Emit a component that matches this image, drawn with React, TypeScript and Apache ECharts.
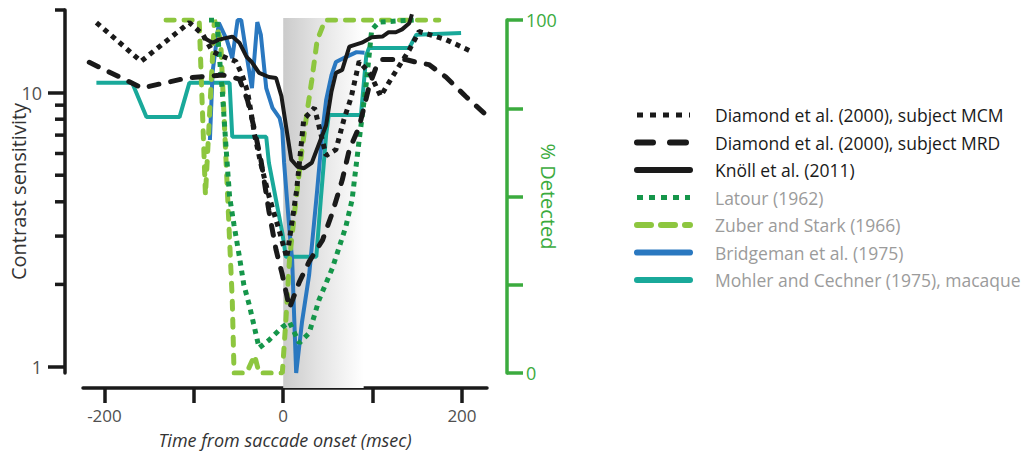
import React, { useEffect, useRef } from "react";
import * as echarts from "echarts";

// ---- Data (contrast sensitivity, left log axis) ----
const mcmTime = [-209, -159, -105, -90, -79, -64, -53, -46, -40, -36, -32, -25, -16, -4, 4, 15, 23, 35, 48, 59, 68, 76, 85, 98, 109, 122, 141, 152, 182, 211];
const mcmSens = [18.0, 13.0, 18.0, 16.3, 14.1, 13.4, 13.0, 11.6, 10.1, 8.5, 7.0, 5.5, 4.2, 3.1, 2.5, 4.4, 8.0, 8.8, 5.9, 6.2, 8.0, 9.6, 13.0, 11.6, 9.7, 11.4, 14.3, 16.7, 15.6, 14.1];

const mrdTime = [-217, -158, -108, -68, -49, -40, -32, -25, -16, -8, -1, 7, 18, 29, 44, 55, 66, 74, 85, 96, 104, 111, 137, 149, 163, 182, 204, 227];
const mrdSens = [12.9, 10.4, 11.3, 11.6, 11.2, 9.4, 7.3, 5.7, 3.7, 2.67, 2.17, 1.64, 2.04, 2.42, 2.9, 3.65, 4.8, 6.2, 7.5, 10.5, 12.4, 13.2, 13.2, 12.9, 12.65, 11.4, 9.7, 8.3];

const knollTime = [-90, -79, -72, -57, -49, -41, -35, -27, -16, -8, -2, 3, 9, 16, 23, 32, 40, 48, 54, 59, 66, 74, 88, 99, 111, 118, 126, 133, 141, 144];
const knollSens = [15.9, 15.2, 15.6, 16.0, 15.2, 13.5, 12.9, 11.8, 11.4, 11.3, 9.7, 7.6, 5.7, 5.37, 5.3, 5.55, 6.5, 7.6, 10.1, 11.8, 12.1, 14.7, 15.2, 15.9, 16.0, 16.6, 16.6, 17.0, 17.9, 19.3];

// ---- Data (% detected, right axis) ----
const latourTime = [-83, -74, -72, -68, -64, -60, -55, -49, -44, -38, -32, -27, -16, -1, 7, 18, 29, 40, 55, 70, 77, 85, 93, 99, 107, 146];
const latourPct = [100, 100, 91.5, 79.3, 64, 49.9, 41.9, 32.9, 24.9, 19.3, 12.7, 7.1, 9.3, 13.0, 14.4, 8.5, 11.3, 20.7, 29.7, 41.4, 49, 66, 82.2, 97.2, 99.4, 100];

const zuberTime = [-131, -94, -87, -77, -70, -63, -57, -55, -41, -32, -27, -1, 3, 7, 13, 21, 27, 32, 38, 47, 174];
const zuberPct = [100, 100, 50.4, 100, 94.3, 54.7, 20.7, 0, 0, 5, 0, 0, 15, 32, 46.2, 63.2, 74.5, 83, 94.3, 100, 100];

const bridgemanTime = [-82, -79, -72, -63, -57, -51, -47, -41, -35, -29, -25, -19, -12, -4, -1, 1, 4, 7, 10, 14.5, 21, 29, 38, 44, 48, 54, 59, 70, 82, 91];
const bridgemanPct = [66, 85.3, 99.2, 94.3, 89.2, 100, 100, 90.1, 80.7, 99.4, 95.8, 80.7, 75.1, 72.2, 68.8, 59.5, 49.9, 40.5, 32, 0, 14.4, 27.8, 51.8, 68.8, 77.3, 84.4, 88.1, 89.5, 90.9, 90.7];

const mohlerTime = [-209, -169, -153, -116, -105, -60, -57, -19, -16, -8, -1, 3, 37, 42, 48, 51, 87, 93, 96, 141, 149, 199];
const mohlerPct = [82.2, 82.2, 72.5, 72.5, 82.2, 82.2, 66.9, 66.9, 59.5, 49, 39.7, 32.9, 32.9, 49, 67.4, 73.1, 73.1, 90.1, 92.1, 92.1, 95.8, 96.3];

// ---- Axis ticks / labels ----
const xTicks = [-200, -100, 0, 100, 200];
const xLabels = [-200, 0, 200];
const yMajorTicks = [1, 10];
const yMinorTicks = [2, 3, 4, 5, 6, 7, 8, 9, 20];
const rightTicks = [0, 25, 50, 75, 100];
const rightLabels = [0, 100];
const shadeRange = [0, 90];

const legendNames = [
  "Diamond et al. (2000), subject MCM",
  "Diamond et al. (2000), subject MRD",
  "Knöll et al. (2011)",
  "Latour (1962)",
  "Zuber and Stark (1966)",
  "Bridgeman et al. (1975)",
  "Mohler and Cechner (1975), macaque",
];

const zip = (a: number[], b: number[]) => a.map((t, i) => [t, b[i]]);

const FONT = '"Open Sans", "Noto Sans", sans-serif';
const BLACK = "#1a1a1a";
const DKGREEN = "#15964a";
const LTGREEN = "#8dc63f";
const BLUE = "#2a78c0";
const TEAL = "#19a99a";
const AXGREEN = "#3bab3e";
const LABEL = "#505050";

export default function App() {
  const ref = useRef<HTMLDivElement>(null);
  useEffect(() => {
    if (!ref.current) return;
    const chart = echarts.init(ref.current, undefined, { renderer: "svg" });

    const GL = 83;
    const GW = 404;
    const LEFT_OFFSET = 18;
    const xCommon = { type: "value", min: -224, max: 228 };

    const legendStyles: any[] = [
      { stroke: BLACK, lineWidth: 5, lineDash: [6, 7], lineCap: "butt" },
      { stroke: BLACK, lineWidth: 6, lineDash: [16, 17], lineCap: "round" },
      { stroke: BLACK, lineWidth: 6, lineCap: "round" },
      { stroke: DKGREEN, lineWidth: 5, lineDash: [6, 6], lineCap: "butt" },
      { stroke: LTGREEN, lineWidth: 6, lineDash: [14, 10], lineCap: "round" },
      { stroke: BLUE, lineWidth: 6, lineCap: "round" },
      { stroke: TEAL, lineWidth: 6, lineCap: "round" },
    ];
    const legendColors = [BLACK, BLACK, BLACK, "#9b9b9b", "#9b9b9b", "#9b9b9b", "#9b9b9b"];
    const legendGraphic: any[] = [];
    legendNames.forEach((name, i) => {
      const y = 115 + i * 27.5;
      legendGraphic.push({
        type: "line",
        shape: { x1: 637, y1: y, x2: 690, y2: y },
        style: legendStyles[i],
      });
      legendGraphic.push({
        type: "text",
        x: 715,
        y: y,
        style: {
          text: name,
          fill: legendColors[i],
          font: `17.5px ${FONT}`,
          textVerticalAlign: "middle",
          verticalAlign: "middle",
        },
      });
    });

    const gridCommon = { left: GL, width: GW, containLabel: false, outerBoundsMode: "none" };

    const option: any = {
      animation: false,
      backgroundColor: "#ffffff",
      textStyle: { fontFamily: FONT },
      grid: [
        { ...gridCommon, top: 10, height: 363 },
        { ...gridCommon, top: 20, height: 353 },
        { ...gridCommon, top: 18, height: 370 },
      ],
      xAxis: [
        {
          ...xCommon,
          gridIndex: 0,
          position: "bottom",
          offset: 15,
          splitLine: { show: false },
          axisLine: { onZero: false, lineStyle: { color: BLACK, width: 3.5 } },
          axisTick: { customValues: xTicks, length: 15, lineStyle: { color: BLACK, width: 3.5 } },
          axisLabel: {
            customValues: xLabels,
            color: LABEL,
            fontSize: 17,
            lineHeight: 20,
            margin: 17,
            fontFamily: FONT,
          },
          name: "Time from saccade onset (msec)",
          nameLocation: "middle",
          nameGap: 42,
          nameMoveOverlap: false,
          nameTextStyle: { fontStyle: "italic", fontSize: 18, lineHeight: 20, color: "#333", fontFamily: FONT },
        },
        { ...xCommon, gridIndex: 1, show: false },
        { ...xCommon, gridIndex: 2, show: false },
      ],
      yAxis: [
        {
          type: "log",
          gridIndex: 0,
          min: 0.951,
          max: 20,
          position: "left",
          offset: LEFT_OFFSET,
          splitLine: { show: false },
          minorTick: { show: false },
          axisLine: { show: true, onZero: false, lineStyle: { color: BLACK, width: 3.5 } },
          axisTick: { customValues: yMajorTicks, length: 17, lineStyle: { color: BLACK, width: 3.5 } },
          axisLabel: { customValues: yMajorTicks, color: LABEL, fontSize: 18, margin: 23, fontFamily: FONT },
          name: "Contrast sensitivity",
          nameLocation: "middle",
          nameRotate: 90,
          nameGap: 37,
          nameMoveOverlap: false,
          nameTextStyle: { fontSize: 20, color: "#333", fontFamily: FONT },
        },
        {
          type: "value",
          gridIndex: 1,
          min: 0,
          max: 100,
          interval: 25,
          position: "right",
          offset: 20,
          splitLine: { show: false },
          axisLine: { show: true, onZero: false, lineStyle: { color: AXGREEN, width: 3.5 } },
          axisTick: { show: true, customValues: rightTicks, length: 16, lineStyle: { color: AXGREEN, width: 3.5 } },
          axisLabel: { customValues: rightLabels, color: AXGREEN, fontSize: 18, margin: 19, fontFamily: FONT },
          name: "% Detected",
          nameLocation: "middle",
          nameRotate: -90,
          nameGap: 31,
          nameMoveOverlap: false,
          nameTextStyle: { fontSize: 20, color: AXGREEN, fontFamily: FONT },
        },
        { type: "value", gridIndex: 2, min: 0, max: 1, show: false },
      ],
      series: [
        {
          type: "line",
          xAxisIndex: 2,
          yAxisIndex: 2,
          data: [],
          silent: true,
          z: 0,
          markArea: {
            silent: true,
            itemStyle: {
              color: new echarts.graphic.LinearGradient(0, 0, 1, 0, [
                { offset: 0, color: "#cbcbcb" },
                { offset: 0.45, color: "#e4e4e4" },
                { offset: 1, color: "#ffffff" },
              ]),
            },
            data: [[{ xAxis: shadeRange[0] }, { xAxis: shadeRange[1] }]],
          },
        },
        {
          name: legendNames[6],
          type: "line",
          xAxisIndex: 1,
          yAxisIndex: 1,
          data: zip(mohlerTime, mohlerPct),
          symbol: "none",
          lineStyle: { color: TEAL, width: 4 },
          z: 2,
        },
        {
          name: legendNames[5],
          type: "line",
          xAxisIndex: 1,
          yAxisIndex: 1,
          data: zip(bridgemanTime, bridgemanPct),
          symbol: "none",
          lineStyle: { color: BLUE, width: 4 },
          z: 3,
        },
        {
          name: legendNames[4],
          type: "line",
          xAxisIndex: 1,
          yAxisIndex: 1,
          data: zip(zuberTime, zuberPct),
          symbol: "none",
          lineStyle: { color: LTGREEN, width: 5, type: [8, 10], cap: "round" },
          z: 4,
        },
        {
          name: legendNames[3],
          type: "line",
          xAxisIndex: 1,
          yAxisIndex: 1,
          data: zip(latourTime, latourPct),
          symbol: "none",
          lineStyle: { color: DKGREEN, width: 5, type: [5, 5], cap: "butt" },
          z: 5,
        },
        {
          name: legendNames[2],
          type: "line",
          xAxisIndex: 0,
          yAxisIndex: 0,
          data: zip(knollTime, knollSens),
          symbol: "none",
          lineStyle: { color: BLACK, width: 4 },
          z: 6,
        },
        {
          name: legendNames[1],
          type: "line",
          xAxisIndex: 0,
          yAxisIndex: 0,
          data: zip(mrdTime, mrdSens),
          symbol: "none",
          lineStyle: { color: BLACK, width: 5, type: [10, 12], cap: "round" },
          z: 7,
        },
        {
          name: legendNames[0],
          type: "line",
          xAxisIndex: 0,
          yAxisIndex: 0,
          data: zip(mcmTime, mcmSens),
          symbol: "none",
          lineStyle: { color: BLACK, width: 5, type: [5, 5], cap: "butt" },
          z: 8,
        },
      ],
      graphic: legendGraphic,
    };

    chart.setOption(option);

    // Minor ticks of the log axis, positioned through the axis' own scale
    const axisX = GL - LEFT_OFFSET;
    const minorGraphic = yMinorTicks.map((v) => {
      const py = chart.convertToPixel({ yAxisIndex: 0 }, v) as number;
      return {
        type: "line",
        shape: { x1: axisX - 10, y1: py, x2: axisX, y2: py },
        style: { stroke: BLACK, lineWidth: 3.5 },
      };
    });
    chart.setOption({ graphic: [...legendGraphic, ...minorGraphic] });

    return () => chart.dispose();
  }, []);

  return (
    <div
      ref={ref}
      style={{ position: "fixed", left: 0, top: 0, width: 1035, height: 453, background: "#fff" }}
    />
  );
}
